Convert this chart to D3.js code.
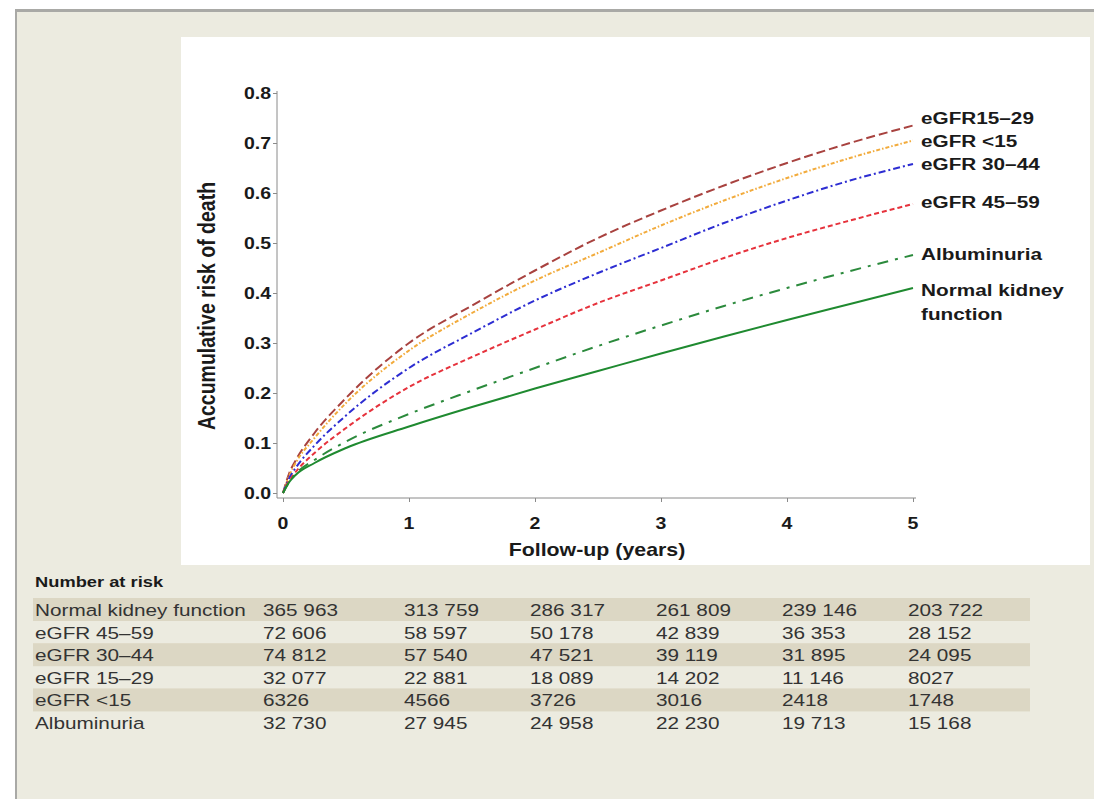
<!DOCTYPE html>
<html>
<head>
<meta charset="utf-8">
<script src="https://cdn.jsdelivr.net/npm/d3@7"></script>
<style>
  body { margin: 0; background: #fff; }
  text { font-family: "Liberation Sans", Arial, sans-serif; }
</style>
</head>
<body>
<div id="chart"></div>
<script>
// follow-up time grid for the curves (years)
const years = [0, 0.05, 0.1, 0.25, 0.5, 1, 1.5, 2, 2.5, 3, 3.5, 4, 4.5, 5];

// accumulative risk of death
const risk1529   = [0, 0.040, 0.065, 0.120, 0.190, 0.300, 0.375, 0.445, 0.510, 0.565, 0.615, 0.660, 0.700, 0.735];
const riskLt15   = [0, 0.035, 0.060, 0.110, 0.180, 0.285, 0.360, 0.425, 0.480, 0.535, 0.585, 0.630, 0.670, 0.705];
const risk3044   = [0, 0.030, 0.050, 0.095, 0.155, 0.250, 0.320, 0.385, 0.440, 0.490, 0.540, 0.585, 0.625, 0.658];
const risk4559   = [0, 0.025, 0.042, 0.080, 0.130, 0.212, 0.272, 0.327, 0.380, 0.425, 0.470, 0.510, 0.545, 0.578];
const riskAlb    = [0, 0.022, 0.038, 0.066, 0.103, 0.158, 0.205, 0.250, 0.294, 0.335, 0.374, 0.410, 0.444, 0.476];
const riskNormal = [0, 0.022, 0.036, 0.060, 0.090, 0.133, 0.172, 0.209, 0.244, 0.279, 0.313, 0.346, 0.378, 0.410];

const seriesNames = ["eGFR15\u201329", "eGFR <15", "eGFR 30\u201344", "eGFR 45\u201359", "Albuminuria", "Normal kidney function"];

const xTicks = [0, 1, 2, 3, 4, 5];
const yTicks = [0, 0.1, 0.2, 0.3, 0.4, 0.5, 0.6, 0.7, 0.8];

// number at risk table
const tableTimes = [0, 1, 2, 3, 4, 5];
const tableRows = ["Normal kidney function", "eGFR 45\u201359", "eGFR 30\u201344", "eGFR 15\u201329", "eGFR <15", "Albuminuria"];
const atRiskNormal = [365963, 313759, 286317, 261809, 239146, 203722];
const atRisk4559   = [72606, 58597, 50178, 42839, 36353, 28152];
const atRisk3044   = [74812, 57540, 47521, 39119, 31895, 24095];
const atRisk1529   = [32077, 22881, 18089, 14202, 11146, 8027];
const atRiskLt15   = [6326, 4566, 3726, 3016, 2418, 1748];
const atRiskAlb    = [32730, 27945, 24958, 22230, 19713, 15168];

const W = 1094, H = 799;
const SX = 1.22; // the original figure is stretched sideways

const svg = d3.select('#chart').append('svg')
  .attr('width', W)
  .attr('height', H);

// frame and panels
svg.append('rect').attr('x', 15).attr('y', 12).attr('width', W - 15).attr('height', H - 12).attr('fill', '#ecebe0');
svg.append('rect').attr('x', 15).attr('y', 9).attr('width', W - 15).attr('height', 3).attr('fill', '#a9a9a6');
svg.append('rect').attr('x', 15).attr('y', 9).attr('width', 2).attr('height', H - 9).attr('fill', '#a9a9a6');
svg.append('rect').attr('x', 181).attr('y', 37).attr('width', 909).attr('height', 528).attr('fill', '#ffffff');

function label(g, x, y, str, opts = {}) {
  return g.append('text')
    .attr('transform', `translate(${x},${y}) scale(${SX},1)${opts.rotate ? ` rotate(${opts.rotate})` : ''}`)
    .attr('text-anchor', opts.anchor || 'start')
    .style('font-size', (opts.size || 16) + 'px')
    .style('font-weight', opts.weight || 'normal')
    .style('fill', opts.color || '#1a1a1a')
    .text(str);
}

const x = d3.scaleLinear().domain([0, 5]).range([283, 913]);
const y = d3.scaleLinear().domain([0, 0.8]).range([493, 93]);

// axes
const axisG = svg.append('g');
axisG.append('g')
  .attr('transform', 'translate(277,0)')
  .call(d3.axisLeft(y).tickValues(yTicks).tickSize(4).tickFormat(''));
axisG.append('g')
  .attr('transform', 'translate(0,498)')
  .call(d3.axisBottom(x).tickValues(xTicks).tickSize(4).tickFormat(''));
axisG.selectAll('.domain').remove();
axisG.selectAll('.tick line').attr('stroke', '#8a8a8a');
axisG.append('line').attr('x1', 277).attr('x2', 277).attr('y1', y(0.8) - 2).attr('y2', 498).attr('stroke', '#8a8a8a');
axisG.append('line').attr('x1', 277).attr('x2', x(5) + 3).attr('y1', 498).attr('y2', 498).attr('stroke', '#8a8a8a');

yTicks.forEach(t => label(svg, 271, y(t) + 6, d3.format('.1f')(t), { anchor: 'end', weight: 'bold', size: 16 }));
xTicks.forEach(t => label(svg, x(t), 529, String(t), { anchor: 'middle', weight: 'bold', size: 16 }));

label(svg, 597, 556, 'Follow-up (years)', { anchor: 'middle', weight: 'bold', size: 17.5 });
label(svg, 215, 306, 'Accumulative risk of death', { anchor: 'middle', weight: 'bold', size: 19.5, rotate: -90 });

// curves
const curves = [
  { values: risk1529,   color: '#a8423f', dash: '9,4' },
  { values: riskLt15,   color: '#f2ab3c', dash: '4,2,1.5,2' },
  { values: risk3044,   color: '#2d2dd2', dash: '7,3,2,3' },
  { values: risk4559,   color: '#e6323c', dash: '5,3' },
  { values: riskAlb,    color: '#2b8a3c', dash: '11,7,3,7' },
  { values: riskNormal, color: '#1f8a30', dash: null }
];

const lineFn = d3.line()
  .x((d, i) => x(years[i]))
  .y(d => y(d))
  .curve(d3.curveMonotoneX);

const lineG = svg.append('g');
curves.forEach(c => {
  lineG.append('path')
    .datum(c.values)
    .attr('fill', 'none')
    .attr('stroke', c.color)
    .attr('stroke-width', 2)
    .attr('stroke-dasharray', c.dash)
    .attr('d', lineFn);
});

// end labels
const labelY = [118, 141, 164, 202, 254, 290];
const legendG = svg.append('g');
seriesNames.forEach((name, i) => {
  if (name === 'Normal kidney function') {
    label(legendG, 921, labelY[i] + 6, 'Normal kidney', { weight: 'bold', size: 17 });
    label(legendG, 921, labelY[i] + 30, 'function', { weight: 'bold', size: 17 });
  } else {
    label(legendG, 921, labelY[i] + 6, name, { weight: 'bold', size: 17 });
  }
});

// number at risk
const fmtBig = d3.formatLocale({ decimal: '.', thousands: ' ', grouping: [3], currency: ['', ''] }).format(',d');
const fmtN = n => n >= 10000 ? fmtBig(n) : String(n);
const tableData = [atRiskNormal, atRisk4559, atRisk3044, atRisk1529, atRiskLt15, atRiskAlb];
const rowY = d3.scaleLinear().domain([0, 5]).range([610, 723]);
const colX = t => x(t) - (t === 0 ? 20 : 5);

const tableG = svg.append('g');
label(tableG, 35, 587, 'Number at risk', { weight: 'bold', size: 15 });
tableRows.forEach((name, r) => {
  if (r % 2 === 0) {
    tableG.append('rect')
      .attr('x', 33).attr('y', rowY(r) - 12)
      .attr('width', 997).attr('height', 23)
      .attr('fill', '#dcd7c4');
  }
});
tableRows.forEach((name, r) => {
  label(tableG, 35, rowY(r) + 6, name, { size: 17, color: '#333333' });
  tableData[r].forEach((v, c) => {
    label(tableG, colX(tableTimes[c]), rowY(r) + 6, fmtN(v), { size: 17, color: '#333333' });
  });
});
</script>
</body>
</html>
